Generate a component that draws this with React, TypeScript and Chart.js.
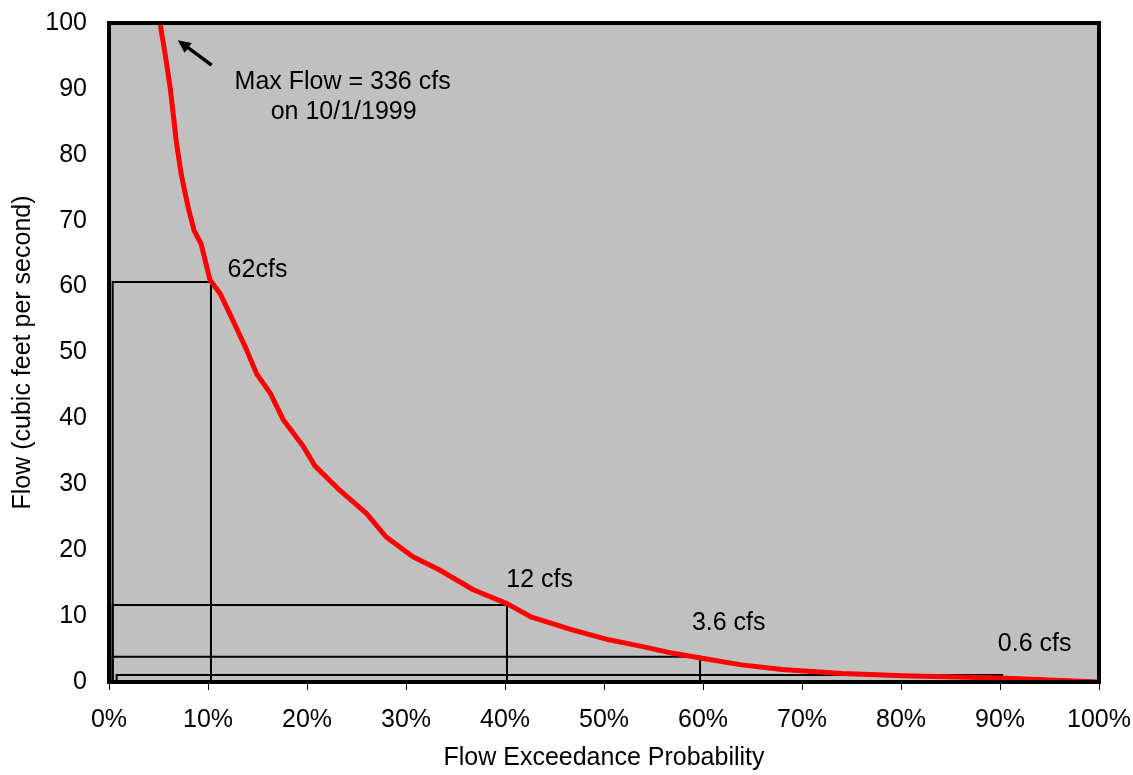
import React, { useEffect, useRef } from 'react';
import { Chart, registerables } from 'chart.js';

Chart.register(...registerables);

// Flow duration curve (exceedance probability %, flow cfs)
const exceedancePct = [0, 5.15, 5.66, 6.2, 6.8, 7.3, 8.0, 8.6, 9.3, 10.2, 11.2, 12.2, 13.9, 14.9, 16.3, 17.6, 19.6, 20.8, 23.3, 26.0, 28.0, 30.7, 33.4, 36.8, 40.2, 42.6, 46.8, 50.5, 53.8, 57.0, 59.9, 63.9, 68.0, 74.1, 80.2, 90.0, 95.0, 100];
const flowCfs = [336, 100, 95.4, 90.0, 82.0, 77.0, 72.0, 68.5, 66.5, 61.0, 59.0, 55.9, 50.4, 46.8, 43.8, 39.8, 35.8, 32.8, 29.1, 25.6, 22.0, 19.0, 17.0, 14.0, 11.9, 9.9, 7.9, 6.4, 5.4, 4.35, 3.6, 2.6, 1.9, 1.3, 0.96, 0.62, 0.32, 0];

// Guide boxes (exceedance, flow, left edge)
const guideProb = [10.3, 40.2, 59.7, 90.2];
const guideFlow = [60.7, 11.7, 3.84, 1.06];
const guideLeft = [0.37, 0.37, 0.37, 0.77];

// Annotation labels
const noteText = ['62cfs', '12 cfs', '3.6 cfs', '0.6 cfs'];
const noteX = [15.0, 43.5, 62.6, 93.5];
const noteY = [62.5, 15.45, 9.0, 5.72];
const maxText = ['Max Flow = 336 cfs', 'on 10/1/1999'];
const maxX = [23.6, 23.7];
const maxY = [91.1, 86.5];
const arrowFrom = [10.37, 93.6];
const arrowTo = [6.94, 97.4];

const xTicks = [0, 10, 20, 30, 40, 50, 60, 70, 80, 90, 100];
const yTicks = [0, 10, 20, 30, 40, 50, 60, 70, 80, 90, 100];

const FONT = "'Liberation Sans', Arial, sans-serif";

export default function App() {
  const ref = useRef<HTMLCanvasElement | null>(null);

  useEffect(() => {
    const canvas = ref.current;
    if (!canvas) return;

    const curve = exceedancePct.map((x, i) => ({ x, y: flowCfs[i] }));
    const boxes = guideProb.map((p, i) => ({
      label: 'box' + i,
      data: [
        { x: guideLeft[i], y: 0 },
        { x: guideLeft[i], y: guideFlow[i] },
        { x: p, y: guideFlow[i] },
        { x: p, y: 0 },
      ],
      borderColor: '#000000',
      borderWidth: 2,
      pointRadius: 0,
      fill: false,
      tension: 0,
    }));

    const framePlugin = {
      id: 'frame',
      beforeDatasetsDraw(chart: any) {
        const { ctx, chartArea: a } = chart;
        ctx.save();
        ctx.fillStyle = '#C0C0C0';
        ctx.fillRect(a.left, a.top, a.right - a.left, a.bottom - a.top);
        ctx.restore();
      },
      afterDatasetsDraw(chart: any) {
        const { ctx, chartArea: a, scales } = chart;
        const xs = scales.x;
        const ys = scales.y;
        ctx.save();
        ctx.strokeStyle = '#000';
        ctx.lineWidth = 4;
        ctx.strokeRect(a.left, a.top, a.right - a.left, a.bottom - a.top);

        ctx.fillStyle = '#000';
        ctx.font = `25px ${FONT}`;
        ctx.textAlign = 'center';
        ctx.textBaseline = 'middle';
        noteText.forEach((t, i) => {
          ctx.fillText(t, xs.getPixelForValue(noteX[i]), ys.getPixelForValue(noteY[i]));
        });
        maxText.forEach((t, i) => {
          ctx.fillText(t, xs.getPixelForValue(maxX[i]), ys.getPixelForValue(maxY[i]));
        });

        // arrow
        const x1 = xs.getPixelForValue(arrowFrom[0]);
        const y1 = ys.getPixelForValue(arrowFrom[1]);
        const x2 = xs.getPixelForValue(arrowTo[0]);
        const y2 = ys.getPixelForValue(arrowTo[1]);
        const ang = Math.atan2(y2 - y1, x2 - x1);
        const hl = 13;
        const hw = 6;
        const bx = x2 - hl * Math.cos(ang);
        const by = y2 - hl * Math.sin(ang);
        ctx.lineWidth = 3.5;
        ctx.beginPath();
        ctx.moveTo(x1, y1);
        ctx.lineTo(bx + 2 * Math.cos(ang), by + 2 * Math.sin(ang));
        ctx.stroke();
        ctx.beginPath();
        ctx.moveTo(x2, y2);
        ctx.lineTo(bx + hw * Math.sin(ang), by - hw * Math.cos(ang));
        ctx.lineTo(bx - hw * Math.sin(ang), by + hw * Math.cos(ang));
        ctx.closePath();
        ctx.fill();
        ctx.restore();
      },
    };

    const chart = new Chart(canvas, {
      type: 'line',
      data: {
        datasets: [
          {
            label: 'Flow',
            data: curve,
            borderColor: '#FF0000',
            borderWidth: 5,
            pointRadius: 0,
            fill: false,
            tension: 0,
            borderJoinStyle: 'round',
          } as any,
          ...boxes,
        ],
      },
      options: {
        responsive: false,
        animation: false,
        devicePixelRatio: 1,
        layout: { padding: { top: 23, right: 34, left: 0, bottom: 0 } },
        plugins: { legend: { display: false }, tooltip: { enabled: false } },
        font: { family: FONT, size: 25 } as any,
        scales: {
          x: {
            type: 'linear',
            min: 0,
            max: 100,
            afterBuildTicks: (s: any) => { s.ticks = xTicks.map((v) => ({ value: v })); },
            afterFit: (s: any) => { s.height = 93; s.paddingLeft = 0; s.paddingRight = 0; },
            ticks: {
              color: '#000',
              font: { family: FONT, size: 25 },
              padding: 15,
              maxRotation: 0,
              callback: (v: any) => v + '%',
            },
            grid: { display: true, drawOnChartArea: false, drawTicks: true, tickLength: 8, color: '#000', lineWidth: 1 },
            border: { display: false },
            title: {
              display: true,
              text: 'Flow Exceedance Probability',
              color: '#000',
              font: { family: FONT, size: 25 },
              padding: { top: 0, bottom: 2 },
            },
          },
          y: {
            type: 'linear',
            min: 0,
            max: 100,
            afterBuildTicks: (s: any) => { s.ticks = yTicks.map((v) => ({ value: v })); },
            afterFit: (s: any) => { s.width = 109; s.paddingTop = 0; s.paddingBottom = 0; },
            ticks: {
              color: '#000',
              font: { family: FONT, size: 25 },
              padding: 22,
            },
            grid: { display: false, drawTicks: false },
            border: { display: false },
            title: {
              display: true,
              text: 'Flow (cubic feet per second)',
              color: '#000',
              font: { family: FONT, size: 25 },
              padding: { top: 8, bottom: 0 },
            },
          },
        },
      },
      plugins: [framePlugin],
    });

    return () => chart.destroy();
  }, []);

  return (
    <div style={{ position: 'fixed', left: 0, top: 0, width: 1133, height: 775, background: '#fff' }}>
      <canvas ref={ref} width={1133} height={775} style={{ display: 'block', width: 1133, height: 775 }} />
    </div>
  );
}
